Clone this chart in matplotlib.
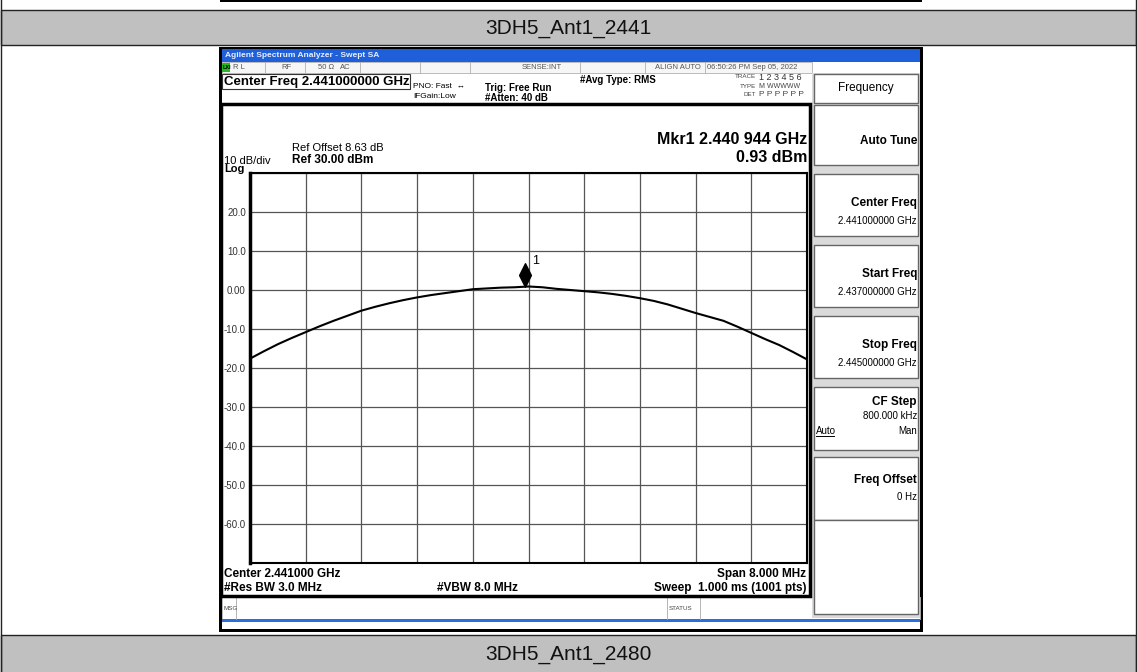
import matplotlib.pyplot as plt
import matplotlib.patches as patches
from matplotlib.path import Path
from matplotlib.transforms import offset_copy

plt.rcParams['font.family'] = ['Liberation Sans', 'DejaVu Sans']

# trace: offset from centre (MHz) and level (dBm)
offset_mhz = [-4.0, -3.8, -3.6, -3.4, -3.2, -3.0, -2.8, -2.6, -2.4, -2.2, -2.0,
              -1.8, -1.6, -1.4, -1.2, -1.0, -0.8, -0.6, -0.4, -0.2, 0.0,
              0.2, 0.4, 0.6, 0.8, 1.0, 1.2, 1.4, 1.6, 1.8, 2.0,
              2.2, 2.4, 2.6, 2.8, 3.0, 3.2, 3.4, 3.6, 3.8, 4.0]
level_dbm = [-17.6, -15.7, -13.9, -12.3, -10.8, -9.3, -7.9, -6.6, -5.3, -4.3, -3.4,
             -2.6, -1.9, -1.3, -0.8, -0.3, 0.2, 0.4, 0.6, 0.7, 0.9,
             0.7, 0.3, 0.0, -0.3, -0.6, -1.0, -1.5, -2.1, -2.8, -3.7,
             -4.8, -5.9, -6.9, -7.9, -9.4, -11.0, -12.6, -14.1, -15.9, -17.8]
center_ghz = 2.441
span_mhz = 8.0
marker_ghz = 2.440944
marker_dbm = 0.93
ref_level = 30
db_per_div = 10
ytick_labels = ['', '20.0', '10.0', '0.00', '-10.0', '-20.0', '-30.0',
                '-40.0', '-50.0', '-60.0', '']
header_top = '3DH5_Ant1_2441'
header_bottom = '3DH5_Ant1_2480'
softkeys = [('Center Freq', '2.441000000 GHz'),
            ('Start Freq', '2.437000000 GHz'),
            ('Stop Freq', '2.445000000 GHz')]

W, H = 1137, 672
fig = plt.figure(figsize=(W / 100, H / 100), dpi=100)
bg = fig.add_axes([0, 0, 1, 1])
bg.set_xlim(0, W)
bg.set_ylim(H, 0)
bg.axis('off')


def box(x0, y0, x1, y1, fc='none', ec='none', lw=1.0, z=1):
    bg.add_patch(patches.Rectangle((x0, y0), x1 - x0, y1 - y0, facecolor=fc,
                                   edgecolor=ec, linewidth=lw, zorder=z))


def txt(x, y, s, size=8, weight='normal', ha='left', color='black', **kw):
    bg.text(x, y, s, fontsize=size, fontweight=weight, ha=ha, va='center',
            color=color, zorder=5, **kw)


# table around the screenshot
box(220, 0, 922, 2, fc='black')
box(0.5, 10, 1136, 45, fc='#c0c0c0', ec='#222222', lw=1)
box(0.5, 635, 1136, 673, fc='#c0c0c0', ec='#222222', lw=1)
bg.plot([0.5, 0.5], [0, H], color='#222222', lw=1)
bg.plot([1136, 1136], [0, H], color='#222222', lw=1)
txt(568, 28, header_top, size=15, ha='center', color='#111111')
txt(568, 654, header_bottom, size=15, ha='center', color='#111111')

# analyzer window
box(219, 47, 923, 632, fc='black')
box(222, 49, 920, 629, fc='white')
box(222, 49, 920, 62, fc='#1f5fd9')
txt(225, 55.5, 'Agilent Spectrum Analyzer - Swept SA', size=6, weight='bold',
    color='#e8f0ff')

# status row
box(222, 62, 812, 73, fc='#f6f6f6', ec='#b0b0b0', lw=0.6)
box(222, 63, 230, 72, fc='#22bb22')
txt(223, 67.5, 'LXI', size=4, weight='bold')
for sx in [265, 305, 360, 420, 470, 580, 645, 705]:
    bg.plot([sx, sx], [62, 73], color='#b0b0b0', lw=0.6, zorder=2)
for sx, s in [(233, 'R L'), (281, 'RF'), (318, '50 Ω'), (340, 'AC'),
              (522, 'SENSE:INT'), (655, 'ALIGN AUTO'), (707, '06:50:26 PM Sep 05, 2022')]:
    txt(sx, 67.5, s, size=5.5, color='#555555')

# measurement setup
box(222, 74, 410, 89, fc='white', ec='#333333', lw=0.8)
txt(224, 81.5, 'Center Freq 2.441000000 GHz', size=9.5, weight='bold')
txt(413, 87, 'PNO: Fast  ↔', size=6)
txt(413, 97, 'IFGain:Low', size=6)
txt(485, 88, 'Trig: Free Run', size=7, weight='bold')
txt(485, 98, '#Atten: 40 dB', size=7, weight='bold')
txt(580, 80, '#Avg Type: RMS', size=7, weight='bold')
txt(756, 77, 'TRACE', size=4.5, ha='right', color='#444444')
txt(756, 86, 'TYPE', size=4.5, ha='right', color='#444444')
txt(756, 94, 'DET', size=4.5, ha='right', color='#444444')
txt(759, 77, '1 2 3 4 5 6', size=6.5, color='#333333')
txt(759, 86, 'M WWWWW', size=5, color='#444444')
txt(759, 94, 'P P P P P P', size=6, color='#444444')

# display frame and readouts
box(221, 104, 810, 596, ec='black', lw=2.5, z=4)
txt(807, 140, 'Mkr1 2.440 944 GHz', size=11.5, weight='bold', ha='right')
txt(807, 157, '0.93 dBm', size=11.5, weight='bold', ha='right')
txt(292, 148, 'Ref Offset 8.63 dB', size=8)
txt(224, 161, '10 dB/div', size=8)
txt(292, 160, 'Ref 30.00 dBm', size=8.5, weight='bold')
txt(224, 169, 'Log', size=8, weight='bold')
txt(224, 574, 'Center 2.441000 GHz', size=8.5, weight='bold')
txt(224, 588, '#Res BW 3.0 MHz', size=8.5, weight='bold')
txt(437, 588, '#VBW 8.0 MHz', size=8.5, weight='bold')
txt(806, 574, 'Span 8.000 MHz', size=8.5, weight='bold', ha='right')
txt(806, 588, 'Sweep  1.000 ms (1001 pts)', size=8.5, weight='bold', ha='right')

# message bar
box(222, 597, 920, 619, fc='white', ec='#aaaaaa', lw=0.6)
for sx in [236, 667, 700]:
    bg.plot([sx, sx], [597, 619], color='#aaaaaa', lw=0.6, zorder=2)
txt(223, 608, 'MSG', size=4.5, color='#444444')
txt(669, 608, 'STATUS', size=4.5, color='#444444')
box(222, 619, 920, 622, fc='#2a6fe0')

# softkey panel
box(812, 73, 920, 618, fc='#dadada')
box(814, 74, 918, 103, fc='white', ec='#666666', lw=1)
txt(866, 88, 'Frequency', size=8.5, ha='center')
box(814, 105, 918, 165, fc='white', ec='#666666', lw=1)
txt(917, 141, 'Auto Tune', size=8.5, weight='bold', ha='right')
for i, (label, value) in enumerate(softkeys):
    y0 = 174 + i * 71
    box(814, y0, 918, y0 + 62, fc='white', ec='#666666', lw=1)
    txt(917, y0 + 29, label, size=8.5, weight='bold', ha='right')
    txt(917, y0 + 47, value, size=7, ha='right')
box(814, 387, 918, 450, fc='white', ec='#666666', lw=1)
txt(917, 402, 'CF Step', size=8.5, weight='bold', ha='right')
txt(917, 416, '800.000 kHz', size=7, ha='right')
txt(816, 431, 'Auto', size=7)
bg.plot([816, 834], [436, 436], color='black', lw=0.7, zorder=5)
txt(917, 431, 'Man', size=7, ha='right')
box(814, 457, 918, 520, fc='white', ec='#666666', lw=1)
txt(917, 480, 'Freq Offset', size=8.5, weight='bold', ha='right')
txt(917, 497, '0 Hz', size=7, ha='right')
box(814, 520, 918, 614, fc='white', ec='#666666', lw=1)

# graticule with the trace
ax = fig.add_axes([250 / W, 1 - 563 / H, 557 / W, 390 / H])
ax.set_facecolor('white')
freqs = [center_ghz + o / 1000 for o in offset_mhz]
f0 = center_ghz - span_mhz / 2000
ax.set_xlim(f0, center_ghz + span_mhz / 2000)
ax.set_ylim(ref_level - 10 * db_per_div, ref_level)
ax.set_xticks([f0 + k * span_mhz / 10000 for k in range(11)])
ax.set_xticklabels([])
ax.set_yticks(list(range(ref_level, ref_level - 10 * db_per_div - 1, -db_per_div)))
ax.set_yticklabels(ytick_labels)
ax.tick_params(length=0, labelsize=7, labelcolor='#333333', pad=3)
ax.grid(True, color='#555555', lw=0.9)
for side in ['top', 'bottom', 'right']:
    ax.spines[side].set_linewidth(1.5)
ax.spines['left'].set_linewidth(2.5)

ax.plot(freqs, level_dbm, color='black', lw=1.5, zorder=3)

diamond = Path([(0, -1), (0.5, 0), (0, 1), (-0.5, 0), (0, -1)],
               [Path.MOVETO, Path.LINETO, Path.LINETO, Path.LINETO, Path.CLOSEPOLY])
lift = offset_copy(ax.transData, fig=fig, x=0, y=11, units='dots')
ax.plot([marker_ghz], [marker_dbm], marker=diamond, markersize=17,
        color='black', transform=lift, zorder=4, clip_on=False)
ax.annotate('1', (marker_ghz, marker_dbm), xytext=(7, 22),
            textcoords='offset pixels', fontsize=9, zorder=4)

fig.savefig('out.png', dpi=100)
